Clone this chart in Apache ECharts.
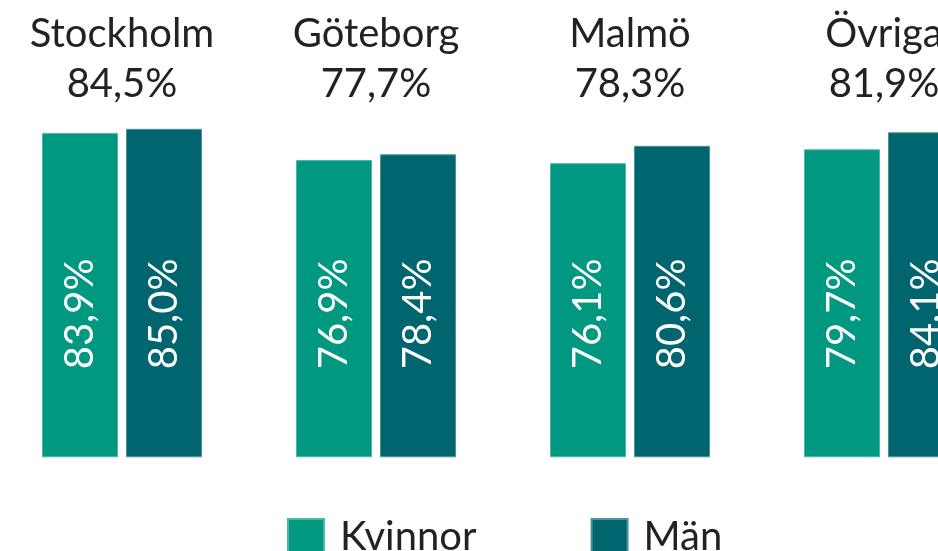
<!DOCTYPE html>
<html>
<head>
<meta charset="utf-8">
<script src="https://cdn.jsdelivr.net/npm/echarts@6/dist/echarts.min.js"></script>
<style>html,body{margin:0;padding:0;background:#fff;overflow:hidden;width:938px;height:551px;position:relative;}#c{position:absolute;left:-5px;top:0;width:1016px;height:551px;}</style>
</head>
<body>
<div id="c"></div>
<script>
var categories = ['Stockholm', 'Göteborg', 'Malmö', 'Övriga'];
var totals = ['84,5%', '77,7%', '78,3%', '81,9%'];
var kvinnor = [83.9, 76.9, 76.1, 79.7];
var man = [85.0, 78.4, 80.6, 84.1];

function fmt(v) { return v.toFixed(1).replace('.', ',') + '%'; }

var chart = echarts.init(document.getElementById('c'), null, {renderer: 'canvas'});
var labelCfg = {
  show: true,
  position: 'insideBottom',
  distance: 88,
  rotate: 90,
  align: 'left',
  verticalAlign: 'middle',
  color: '#ffffff',
  fontFamily: 'Lato',
  fontSize: 40,
  formatter: function (p) { return fmt(p.value); }
};
chart.setOption({
  animation: false,
  backgroundColor: '#ffffff',
  textStyle: {fontFamily: 'Lato'},
  grid: {left: 0, right: 0, top: 109.5, bottom: 93.7, containLabel: false},
  legend: {
    left: 292, top: 517, padding: 0,
    itemWidth: 36, itemHeight: 36, itemGap: 114,
    icon: 'rect',
    textStyle: {fontFamily: 'Lato', fontSize: 40, color: '#222222', padding: [0, 0, 0, 11]},
    data: ['Kvinnor', 'Män']
  },
  xAxis: {
    type: 'category',
    position: 'top',
    data: categories,
    axisLine: {show: false},
    axisTick: {show: false},
    axisLabel: {
      interval: 0,
      margin: 0,
      fontFamily: 'Lato',
      fontSize: 40,
      lineHeight: 50,
      color: '#222222',
      formatter: function (v, i) { return v + '\n' + totals[i]; }
    }
  },
  yAxis: {
    type: 'value', min: 0, max: 90, show: false,
    splitLine: {show: false}
  },
  series: [
    {
      name: 'Kvinnor', type: 'bar', data: kvinnor,
      barWidth: 76, barGap: '10.5%',
      itemStyle: {color: '#009880', borderColor: '#4db7a6', borderWidth: 1},
      label: labelCfg
    },
    {
      name: 'Män', type: 'bar', data: man,
      barWidth: 76,
      itemStyle: {color: '#00656f', borderColor: '#4d939a', borderWidth: 1},
      label: labelCfg
    }
  ]
});
</script>
</body>
</html>
